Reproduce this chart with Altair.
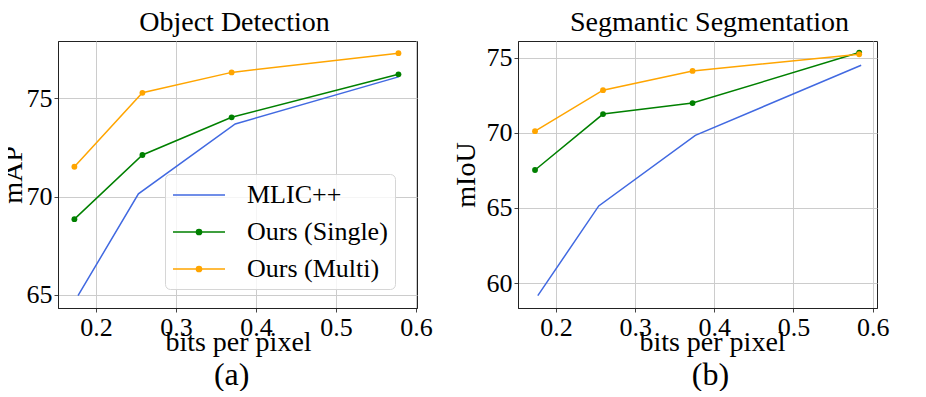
import altair as alt
import pandas as pd

series = ["MLIC++", "Ours (Single)", "Ours (Multi)"]
colors = ["#4169e1", "#008000", "#ffa500"]

# Object detection (mAP)
det_bpp_mlic = [0.1775, 0.253, 0.374, 0.578]
det_map_mlic = [64.95, 70.14, 73.70, 76.10]
det_bpp_ours = [0.173, 0.258, 0.3695, 0.578]
det_map_single = [68.85, 72.12, 74.04, 76.23]
det_map_multi = [71.52, 75.29, 76.33, 77.31]

# Semantic segmentation (mIoU)
seg_bpp_mlic = [0.177, 0.254, 0.376, 0.5855]
seg_miou_mlic = [59.16, 65.13, 69.82, 74.49]
seg_bpp_ours = [0.1735, 0.2594, 0.3725, 0.583]
seg_miou_single = [67.52, 71.24, 71.97, 75.33]
seg_miou_multi = [70.10, 72.83, 74.11, 75.22]

x_ticks = [0.2, 0.3, 0.4, 0.5, 0.6]
det_y_ticks = [65, 70, 75]
seg_y_ticks = [60, 65, 70, 75]

FONT = "Liberation Serif"

# legend symbols (unit box [-1,1]; drawn wider than the box): a line, and a line with a dot
line_only = "M-1,0L3,0"
line_dot = ("M-1,0L3,0"
            "M1.2,0A0.2,0.2,0,1,1,0.8,0A0.2,0.2,0,1,1,1.2,0"
            "M1.1,0A0.1,0.1,0,1,1,0.9,0A0.1,0.1,0,1,1,1.1,0"
            "M1.03,0A0.03,0.03,0,1,1,0.97,0A0.03,0.03,0,1,1,1.03,0")
LEG_SIZE = 676


def make_df(bpps, vals):
    rows = []
    for s, bl, vl in zip(series, bpps, vals):
        for b, v in zip(bl, vl):
            rows.append({"series": s, "bpp": b, "value": v})
    return pd.DataFrame(rows)


def panel(df, title, ytitle, xdom, ydom, yticks, with_legend, ytitle_x,
          xtitle_x, title_dx):
    color_scale = alt.Scale(domain=series, range=colors)
    x = alt.X("bpp:Q", scale=alt.Scale(domain=xdom, nice=False, zero=False),
              axis=alt.Axis(values=x_ticks, format=".1f", title="bits per pixel",
                            titleBaseline="alphabetic", titleY=42,
                            titleX=xtitle_x))
    y = alt.Y("value:Q", scale=alt.Scale(domain=ydom, nice=False, zero=False),
              axis=alt.Axis(values=yticks, format="d", title=ytitle,
                            titleX=ytitle_x, titleBaseline="middle"))
    leg_props = dict(title=None, orient="none", legendX=107, legendY=133)
    if with_legend:
        color_line = alt.Color("series:N", scale=color_scale)
    else:
        color_line = alt.Color("series:N", scale=color_scale, legend=None)
    lines = alt.Chart(df).mark_line(strokeWidth=1.5, clip=True).encode(
        x=x, y=y, color=color_line, detail="series:N",
    )
    pts = alt.Chart(df).transform_filter(alt.datum.series != "MLIC++").mark_point(
        filled=True, size=34, opacity=1, clip=True).encode(
        x=x, y=y, color=color_line,
    )
    layers = [lines, pts]
    if with_legend:
        leg = alt.Chart(df).mark_point(
            filled=False, size=LEG_SIZE, strokeWidth=1.5, opacity=0, clip=True).encode(
            x=x, y=y,
            color=alt.Color("series:N", scale=color_scale,
                            legend=alt.Legend(symbolSize=LEG_SIZE, symbolStrokeWidth=1.5,
                                              symbolOpacity=1,
                                              symbolFillColor="transparent",
                                              labelFont=FONT, labelFontSize=26,
                                              labelOffset=47, rowPadding=10,
                                              padding=7, labelLimit=400,
                                              fillColor="rgba(255,255,255,0.8)",
                                              strokeColor="#d6d6d6", cornerRadius=5,
                                              **leg_props)),
            shape=alt.Shape("series:N",
                            scale=alt.Scale(domain=series,
                                            range=[line_only, line_dot, line_dot]),
                            legend=alt.Legend(**leg_props)),
        )
        layers.append(leg)
    ch = alt.layer(*layers).properties(
        width=359, height=267,
        title=alt.TitleParams(title, font=FONT, fontSize=28, fontWeight="normal",
                              offset=4, dx=title_dx),
    )
    return ch


det_df = make_df([det_bpp_mlic, det_bpp_ours, det_bpp_ours],
                 [det_map_mlic, det_map_single, det_map_multi])
seg_df = make_df([seg_bpp_mlic, seg_bpp_ours, seg_bpp_ours],
                 [seg_miou_mlic, seg_miou_single, seg_miou_multi])

a = panel(det_df, "Object Detection", "mAP", [0.1525, 0.6012], [64.32, 77.93],
          det_y_ticks, True, -45, 180, -3)
b = panel(seg_df, "Segmantic Segmentation", "mIoU", [0.152, 0.6055], [58.34, 76.1],
          seg_y_ticks, False, -52, 194, 12)

wa = alt.vconcat(a).properties(
    title=alt.TitleParams("(a)", orient="bottom", anchor="middle", font=FONT,
                          fontSize=32, fontWeight="normal", offset=3, dx=16))
wb = alt.vconcat(b).properties(
    title=alt.TitleParams("(b)", orient="bottom", anchor="middle", font=FONT,
                          fontSize=32, fontWeight="normal", offset=3, dx=40))

chart = alt.hconcat(wa, wb, spacing=18).resolve_scale(
    color="independent", shape="independent").resolve_legend(
    color="independent", shape="independent").configure(
    padding={"left": -10, "top": 0, "right": 0, "bottom": 0},
    background="white",
).configure_view(
    stroke="#222", strokeWidth=1,
).configure_axis(
    labelFont=FONT, labelFontSize=26, labelColor="black",
    titleFont=FONT, titleFontSize=28, titleFontWeight="normal", titleColor="black",
    grid=True, gridColor="#cccccc", gridWidth=1,
    domainColor="#222", tickColor="#444", tickSize=4, labelPadding=2,
    labelFlush=False,
)

chart.save("out.html", embed_options={"renderer": "svg", "actions": False})
